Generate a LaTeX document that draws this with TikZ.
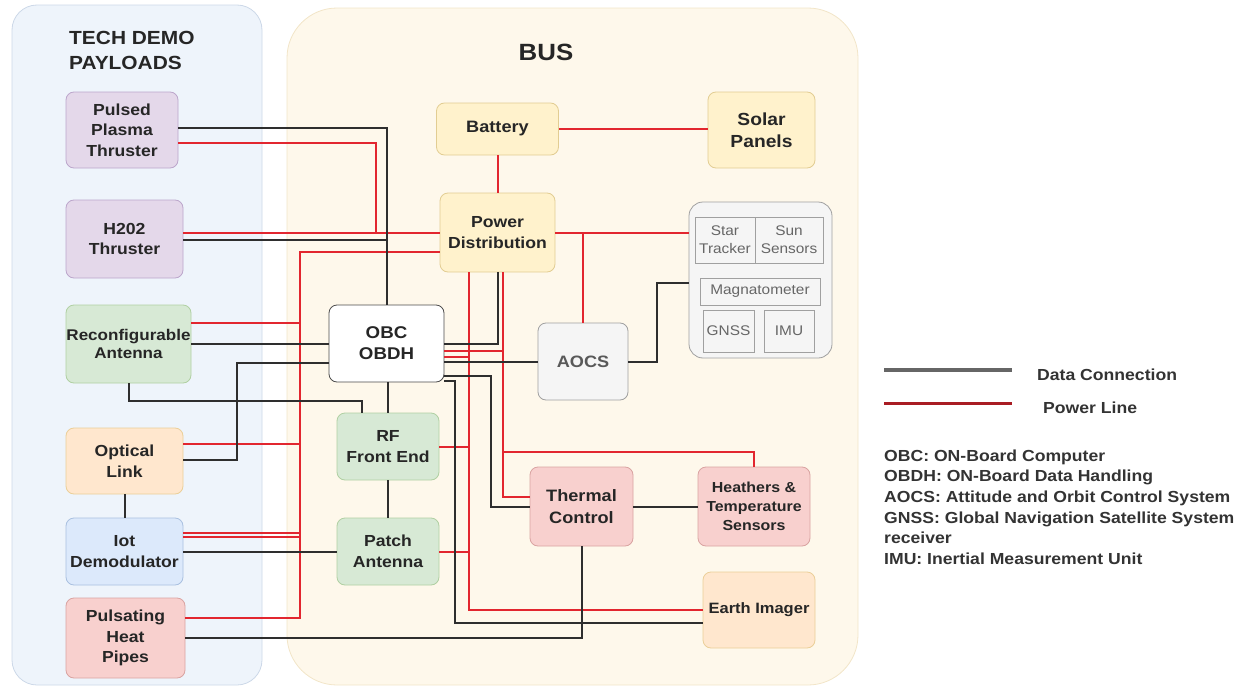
\documentclass[tikz,border=0pt]{standalone}
\usepackage{fontspec}
\setmainfont{Liberation Sans}[FakeStretch=1.1]
\definecolor{techfill}{HTML}{EEF4FB}
\definecolor{techline}{HTML}{CCD8E8}
\definecolor{busfill}{HTML}{FEF8EB}
\definecolor{busline}{HTML}{F2E5C8}
\definecolor{purpfill}{HTML}{E4D8EA}
\definecolor{purpline}{HTML}{BCA6CB}
\definecolor{grnfill}{HTML}{D7E9D5}
\definecolor{grnline}{HTML}{B0D0A2}
\definecolor{orgfill}{HTML}{FFE7CE}
\definecolor{orgline}{HTML}{EBCF98}
\definecolor{bluefill}{HTML}{DCE9FB}
\definecolor{blueline}{HTML}{A9C0E0}
\definecolor{redfill}{HTML}{F8D0CE}
\definecolor{redline}{HTML}{D9A3A1}
\definecolor{ylwfill}{HTML}{FFF2CC}
\definecolor{ylwline}{HTML}{E2CD92}
\definecolor{grayfill}{HTML}{F5F5F5}
\definecolor{grayline}{HTML}{A0A0A0}
\definecolor{datacol}{HTML}{2E2E2E}
\definecolor{powercol}{HTML}{E2262F}
\begin{document}
\begin{tikzpicture}[x=1pt, y=-1pt,
    block/.style={draw, rounded corners=8pt, line width=0.8pt, align=center, inner sep=1pt,
      text=black!85, font=\bfseries\fontsize{16}{20.5}\selectfont},
    purp/.style={block, fill=purpfill, draw=purpline},
    grn/.style={block, fill=grnfill, draw=grnline},
    org/.style={block, fill=orgfill, draw=orgline},
    blu/.style={block, fill=bluefill, draw=blueline},
    rd/.style={block, fill=redfill, draw=redline},
    ylw/.style={block, fill=ylwfill, draw=ylwline},
    gry/.style={block, fill=grayfill, draw=grayline},
    part/.style={draw=grayline, line width=0.6pt, inner sep=0pt, align=center, text=black!60,
      font=\fontsize{14}{18}\selectfont},
    dataline/.style={draw=datacol, line width=2pt},
    powerline/.style={draw=powercol, line width=2pt},
    legendtext/.style={inner sep=0pt, text=black!80, font=\bfseries\fontsize{16}{20.6}\selectfont}]
  \useasboundingbox (0,0) rectangle (1254,688);
  \node[draw=techline, fill=techfill, rounded corners=25pt, line width=0.8pt,
    minimum width=250pt, minimum height=680pt] (payloads) at (137,345) {};
  \node[draw=busline, fill=busfill, rounded corners=50pt, line width=0.8pt,
    minimum width=571pt, minimum height=677pt] (bus) at (572.5,346.5) {};
  \node[anchor=north west, inner sep=0pt, align=left, text=black!85,
    font=\bfseries\fontsize{19}{25}\selectfont] (paytitle) at (69,31) {TECH DEMO\\PAYLOADS};
  \node[text=black!85, font=\bfseries\fontsize{23.5}{28}\selectfont] (bustitle) at (546,52) {BUS};

  % payloads
  \node[purp, minimum width=112pt, minimum height=76pt] (ppt) at (122,130) {Pulsed\\Plasma\\Thruster};
  \node[purp, minimum width=117pt, minimum height=78pt] (htt) at (124.5,239) {H202\\Thruster};
  \node[grn, minimum width=125pt, minimum height=78pt, inner xsep=0pt,
    font=\bfseries\fontsize{15.5}{18.5}\selectfont] (reant) at (128.5,344) {Reconfigurable\\Antenna};
  \node[org, minimum width=117pt, minimum height=66pt] (optlink) at (124.5,461) {Optical\\Link};
  \node[blu, minimum width=117pt, minimum height=67pt] (iotdem) at (124.5,551.5) {Iot\\Demodulator};
  \node[rd, minimum width=119pt, minimum height=80pt] (heatpipe) at (125.5,638) {Pulsating\\Heat\\Pipes};

  % bus
  \node[ylw, minimum width=122pt, minimum height=52pt, font=\bfseries\fontsize{16.5}{20}\selectfont]
    (battery) at (497.5,129) {Battery};
  \node[ylw, minimum width=107pt, minimum height=76pt, font=\bfseries\fontsize{17.5}{22}\selectfont]
    (solar) at (761.5,130) {Solar\\Panels};
  \node[ylw, minimum width=115pt, minimum height=79pt] (pdist) at (497.5,232.5) {Power\\Distribution};
  \node[block, fill=white, draw=black!70, minimum width=115pt, minimum height=77pt,
    font=\bfseries\fontsize{17}{21}\selectfont] (obc) at (386.5,343.5) {OBC\\OBDH};
  \node[gry, minimum width=90pt, minimum height=77pt, text=black!65,
    font=\bfseries\fontsize{16.5}{20}\selectfont] (aocs) at (583,361.5) {AOCS};
  \node[grn, minimum width=102pt, minimum height=67pt] (rfend) at (388,446.5) {RF\\Front End};
  \node[grn, minimum width=102pt, minimum height=67pt] (patch) at (388,551.5) {Patch\\Antenna};
  \node[rd, minimum width=103pt, minimum height=79pt, font=\bfseries\fontsize{16.5}{22}\selectfont]
    (thermal) at (581.5,506.5) {Thermal\\Control};
  \node[rd, minimum width=112pt, minimum height=79pt, font=\bfseries\fontsize{14.5}{19}\selectfont]
    (heaters) at (754,506.5) {Heathers \&\\Temperature\\Sensors};
  \node[org, minimum width=112pt, minimum height=76pt, font=\bfseries\fontsize{15}{19}\selectfont]
    (imager) at (759,610) {Earth Imager};

  \node[draw=grayline, fill=grayfill, rounded corners=14pt, line width=0.8pt,
    minimum width=143pt, minimum height=156pt] (aocsgrp) at (760.5,280) {};
  \node[part, minimum width=60pt, minimum height=46pt] (star) at (725,240) {Star\\Tracker};
  \node[part, minimum width=68pt, minimum height=46pt] (sun) at (789,240) {Sun\\Sensors};
  \node[part, minimum width=120pt, minimum height=27pt] (mag) at (760,291.5) {Magnatometer};
  \node[part, minimum width=51pt, minimum height=42pt] (gnss) at (728.5,331) {GNSS};
  \node[part, minimum width=50pt, minimum height=42pt] (imu) at (789,331) {IMU};

  \coordinate (pbus) at (300,252);
  \coordinate (pdl) at ([xshift=-28.5pt]pdist.south);
  \coordinate (pdr) at ([xshift=5.5pt]pdist.south);

  % power lines
  \draw[powerline] (battery.east) -- (battery.east -| solar.west);
  \draw[powerline] (battery) -- (pdist);
  \draw[powerline] ([yshift=-13pt]ppt.east) -- ++(198,0) |- (pdist.west);
  \draw[powerline] (pdist.west -| htt.east) -- (pdist.west);
  \draw[powerline] ([yshift=-19.5pt]pdist.west) -- (pbus) |- ([yshift=20pt]heatpipe.east);
  \draw[powerline] ([yshift=21pt]reant.east) -| (pbus);
  \draw[powerline] ([yshift=17pt]optlink.east) -| (pbus);
  \draw[powerline] ([yshift=18.5pt]iotdem.east) -| (pbus);
  \draw[powerline] ([yshift=15pt]iotdem.east) -| (pbus);
  \draw[powerline] (pdist.east) -- (pdist.east -| aocsgrp.west);
  \draw[powerline] (aocs.north) |- (pdist.east);
  \draw[powerline] (pdl) |- (imager.west);
  \draw[powerline] (rfend.east) -- (rfend.east -| pdl);
  \draw[powerline] (patch.east) -- (patch.east -| pdl);
  \draw[powerline] (pdr) |- ([yshift=9.5pt]thermal.west);
  \draw[powerline] (heaters.north) -- ++(0,-15) -| (pdr);
  \draw[powerline] ([yshift=-7pt]obc.east) -| (pdr);
  \draw[powerline] ([yshift=-13pt]obc.east) -| (pdl);

  % data lines
  \draw[dataline] ([yshift=2pt]ppt.east) -| (obc.north);
  \draw[dataline] ([yshift=-1pt]htt.east) -| (obc.north);
  \draw[dataline] (reant.east) -- (reant.east -| obc.west);
  \draw[dataline] ([yshift=1pt]optlink.east) -- ++(54,0) |- ([yshift=-19.5pt]obc.west);
  \draw[dataline] (reant.south) -- ++(0,18) -| ([xshift=-26pt]rfend.north);
  \draw[dataline] (rfend.north |- obc.south) -- (rfend.north);
  \draw[dataline] (rfend) -- (patch);
  \draw[dataline] (optlink) -- (iotdem);
  \draw[dataline] (iotdem) -- (patch);
  \draw[dataline] (heatpipe.east) -| (thermal.south);
  \draw[dataline] (pdist.south) |- (obc.east);
  \draw[dataline] (aocs.west) -- (aocs.west -| obc.east);
  \draw[dataline] (aocs.east) -- ++(29,0) |- ([yshift=-3pt]aocsgrp.west);
  \draw[dataline] ([yshift=-32pt]obc.east) -- ++(46.5,0) |- (thermal.west);
  \draw[dataline] ([yshift=-37pt]obc.east) -- ++(10.5,0) |- ([yshift=-13pt]imager.west);
  \draw[dataline] (thermal) -- (heaters);

  % legend
  \coordinate (dataA) at (884,370);
  \coordinate (dataB) at (1012,370);
  \coordinate (powA) at (884,403);
  \coordinate (powB) at (1012,403);
  \draw[draw=black!60, line width=3.5pt] (dataA) -- (dataB);
  \draw[draw=powercol!75!black, line width=3pt] (powA) -- (powB);
  \node[legendtext, anchor=west] (datalbl) at (1037,375) {Data Connection};
  \node[legendtext, anchor=west] (powlbl) at (1043,407.5) {Power Line};
  \node[legendtext, anchor=north west, align=left] (abbrev) at (884,449.5)
    {OBC: ON-Board Computer\\OBDH: ON-Board Data Handling\\AOCS: Attitude and Orbit Control System\\GNSS: Global Navigation Satellite System\\receiver\\IMU: Inertial Measurement Unit};
\end{tikzpicture}
\end{document}
